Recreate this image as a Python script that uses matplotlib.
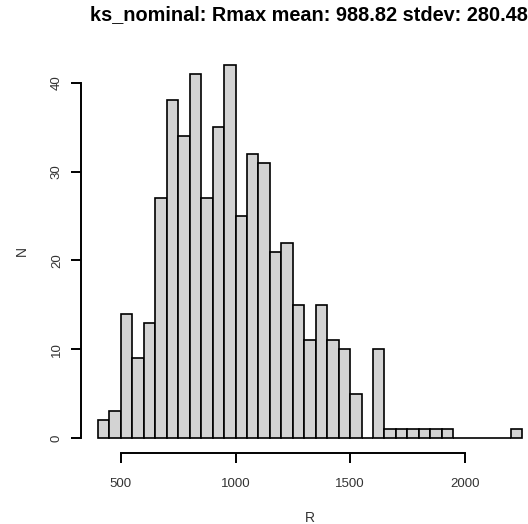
import matplotlib.pyplot as plt
import numpy as np

title = "ks_nominal: Rmax mean: 988.82 stdev: 280.48"
bin_start = 400
bin_width = 50
counts = [2, 3, 14, 9, 13, 27, 38, 34, 41, 27, 35, 42, 25, 32, 31, 21, 22, 15,
          11, 15, 11, 10, 5, 0, 10, 1, 1, 1, 1, 1, 1, 0, 0, 0, 0, 0, 1]
x_ticks = [500, 1000, 1500, 2000]
y_ticks = [0, 10, 20, 30, 40]

plt.rcParams['font.family'] = ['Liberation Sans', 'DejaVu Sans']

lefts = bin_start + bin_width * np.arange(len(counts))

fig = plt.figure(figsize=(5.28, 5.24), dpi=100)
# область графика как в R: немного выходит за правый край картинки
ax = fig.add_axes([81 / 528, 71 / 524, 458 / 528, 403 / 524])

ax.bar(lefts, counts, width=bin_width, align="edge",
       color="#D3D3D3", edgecolor="black", linewidth=1.2)

x_lo, x_hi = lefts[0], lefts[-1] + bin_width
pad = 0.04 * (x_hi - x_lo)
ax.set_xlim(x_lo - pad, x_hi + pad)
ax.set_ylim(-0.04 * max(counts), max(counts) * 1.04)

# оси в стиле base R
for s in ["top", "right"]:
    ax.spines[s].set_visible(False)
ax.spines["left"].set_bounds(y_ticks[0], y_ticks[-1])
ax.spines["bottom"].set_bounds(x_ticks[0], x_ticks[-1])
for s in ["left", "bottom"]:
    ax.spines[s].set_linewidth(1.4)

ax.set_xticks(x_ticks)
ax.set_yticks(y_ticks)
ax.tick_params(direction="out", length=7, width=1.4, labelsize=9.5,
               labelcolor="#333333", pad=11)
ax.tick_params(axis="y", pad=6)
for lbl in ax.get_yticklabels():
    lbl.set_rotation(90)
    lbl.set_va("center")

ax.set_xlabel("R", fontsize=10, color="#333333", labelpad=15)
ax.set_ylabel("N", fontsize=10, color="#333333", labelpad=16)

fig.text(309 / 528, 1 - 15 / 524, title, ha="center", va="center",
         fontsize=14.3, fontweight="bold")

fig.savefig("out.png", dpi=100)
plt.close(fig)
